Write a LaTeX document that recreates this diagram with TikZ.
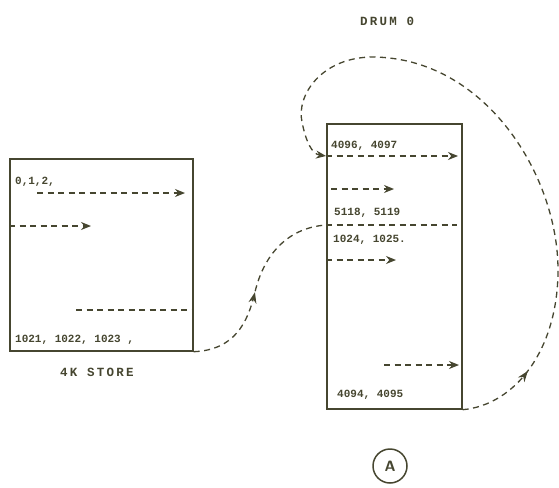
\documentclass[tikz,border=0pt]{standalone}
\usepackage{fontspec}
\setmonofont{Liberation Mono}
\newfontfamily\spacedmono[LetterSpace=18]{Liberation Mono}
\usetikzlibrary{arrows.meta,decorations.markings}
\definecolor{ink}{RGB}{70,70,48}
\tikzset{
  box/.style={draw=ink, line width=1.7pt, minimum width=#1, inner sep=0pt, anchor=north west},
  dline/.style={draw=ink, line width=1.3pt, dash pattern=on 6pt off 4.5pt},
  darrow/.style={dline, -{Stealth[length=10pt,width=8pt]}},
  lbl/.style={text=ink, font=\ttfamily\bfseries\fontsize{11}{13}\selectfont, inner sep=0pt, anchor=west},
  title/.style={text=ink, font=\spacedmono\bfseries\fontsize{12.5}{14}\selectfont, inner sep=0pt},
  midarrow/.style={postaction={decorate, decoration={markings,
      mark=at position #1 with {\arrow{Stealth[length=11pt,width=8pt]}}}}}
}
\begin{document}
\begin{tikzpicture}[x=1pt,y=-1pt]
\useasboundingbox (0,0) rectangle (559,487);
% boxes
\node[box=183pt, minimum height=192pt] (store) at (9,158) {};
\node[box=135pt, minimum height=285pt] (drum) at (326,123) {};
% titles
\node[title] (drumlbl) at (387,21) {DRUM 0};
\node[title] (storelbl) at (97,372) {4K STORE};
\node[draw=ink, line width=1.5pt, circle, minimum size=34pt, inner sep=0pt, text=ink,
      font=\sffamily\bfseries\fontsize{15}{17}\selectfont] (A) at (390,466) {A};
% store texts
\node[lbl] (s1) at (15,182) {0,1,2,};
\node[lbl] (s2) at (15,340) {1021, 1022, 1023 ,};
% drum texts
\node[lbl] (d1) at (331,146) {4096, 4097};
\node[lbl] (d2) at (334,213) {5118, 5119};
\node[lbl] (d3) at (333,240) {1024, 1025.};
\node[lbl] (d4) at (337,395) {4094, 4095};
% coordinates
\coordinate (a1s) at (37,193);   \coordinate (a1e) at (185,193);
\coordinate (a2s) at (9,226);    \coordinate (a2e) at (91,226);
\coordinate (l3s) at (76,310);   \coordinate (l3e) at (192,310);
\coordinate (b1s) at (326,156);  \coordinate (b1e) at (458,156);
\coordinate (b2s) at (331,189);  \coordinate (b2e) at (394,189);
\coordinate (b3s) at (326,225);  \coordinate (b3e) at (457,225);
\coordinate (b4s) at (326,260);  \coordinate (b4e) at (396,260);
\coordinate (b5s) at (384,365);  \coordinate (b5e) at (459,365);
% store arrows
\draw[darrow] (a1s) -- (a1e);
\draw[darrow] (a2s) -- (a2e);
\draw[dline] (l3s) -- (l3e);
% drum arrows
\draw[darrow] (b1s) -- (b1e);
\draw[darrow] (b2s) -- (b2e);
\draw[dline] (b3s) -- (b3e);
\draw[darrow] (b4s) -- (b4e);
\draw[darrow] (b5s) -- (b5e);
% curve store -> drum
\draw[dline, midarrow=0.47] (store.south east)
   .. controls (235,350) and (248,322) .. (255,292)
   .. controls (263,258) and (285,228) .. (b3s);
% big loop from drum bottom to drum top
\draw[dline, midarrow=0.12, -{Stealth[length=10pt,width=8pt]}] (drum.south east)
   .. controls (515,405) and (558,350) .. (558,270)
   .. controls (558,175) and (485,58) .. (373,57)
   .. controls (322,57) and (296,95) .. (302,122)
   .. controls (306,142) and (312,154) .. (b1s);
\end{tikzpicture}
\end{document}
